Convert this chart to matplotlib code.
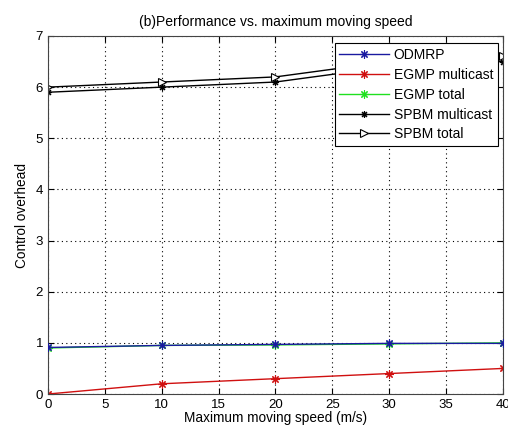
import matplotlib
matplotlib.use("Agg")
import matplotlib.pyplot as plt

plt.rcParams['font.family'] = ['Liberation Sans', 'DejaVu Sans']

speed = [0, 10, 20, 30, 40]
odmrp = [0.91, 0.95, 0.97, 0.99, 0.99]
egmp_multicast = [0.0, 0.2, 0.3, 0.4, 0.5]
egmp_total = [0.9, 0.95, 0.96, 0.98, 1.0]
spbm_multicast = [5.9, 6.0, 6.1, 6.4, 6.5]
spbm_total = [6.0, 6.1, 6.2, 6.5, 6.6]

ast = (8, 2, 0)  # asterisk like matlab '*'

fig = plt.figure(figsize=(5.08, 4.3), dpi=100)
ax = fig.add_axes([0.0945, 0.0837, 0.8955, 0.8326])

ax.plot(speed, odmrp, '-', marker=ast, color='#1a1aa0', lw=1, ms=6, mew=0.8,
        label='ODMRP', zorder=3)
ax.plot(speed, egmp_multicast, '-', marker=ast, color='#d01010', lw=1, ms=6, mew=0.8,
        label='EGMP multicast')
ax.plot(speed, egmp_total, '-', marker=ast, color='#20e020', lw=1, ms=6, mew=0.8,
        label='EGMP total', zorder=2)
ax.plot(speed, spbm_multicast, '-', marker=ast, color='black', lw=1, ms=5, mew=0.8,
        label='SPBM multicast')
ax.plot(speed, spbm_total, '->', color='black', lw=1, ms=6, mew=0.8, mfc='white',
        label='SPBM total')

ax.set_xlim(0, 40)
ax.set_ylim(0, 7)
ax.set_xticks(range(0, 41, 5))
ax.set_yticks(range(0, 8))
ax.grid(True, linestyle=(0, (1, 3)), color='black', lw=0.8)
ax.tick_params(direction='in', top=True, right=True, labelsize=9.5, length=4)
for s in ax.spines.values():
    s.set_color('#444444')

ax.set_title('(b)Performance vs. maximum moving speed', fontsize=10, pad=7)
ax.set_xlabel('Maximum moving speed (m/s)', fontsize=9.8, labelpad=0)
ax.set_ylabel('Control overhead', fontsize=9.8, labelpad=5)

leg = ax.legend(loc='upper right', bbox_to_anchor=(0.989, 0.98), fontsize=10,
                fancybox=False, edgecolor='black', framealpha=1,
                handlelength=3.6, labelspacing=0.42, borderaxespad=0,
                handletextpad=0.3, borderpad=0.35)
leg.get_frame().set_linewidth(0.8)

fig.savefig('out.png', dpi=100)
